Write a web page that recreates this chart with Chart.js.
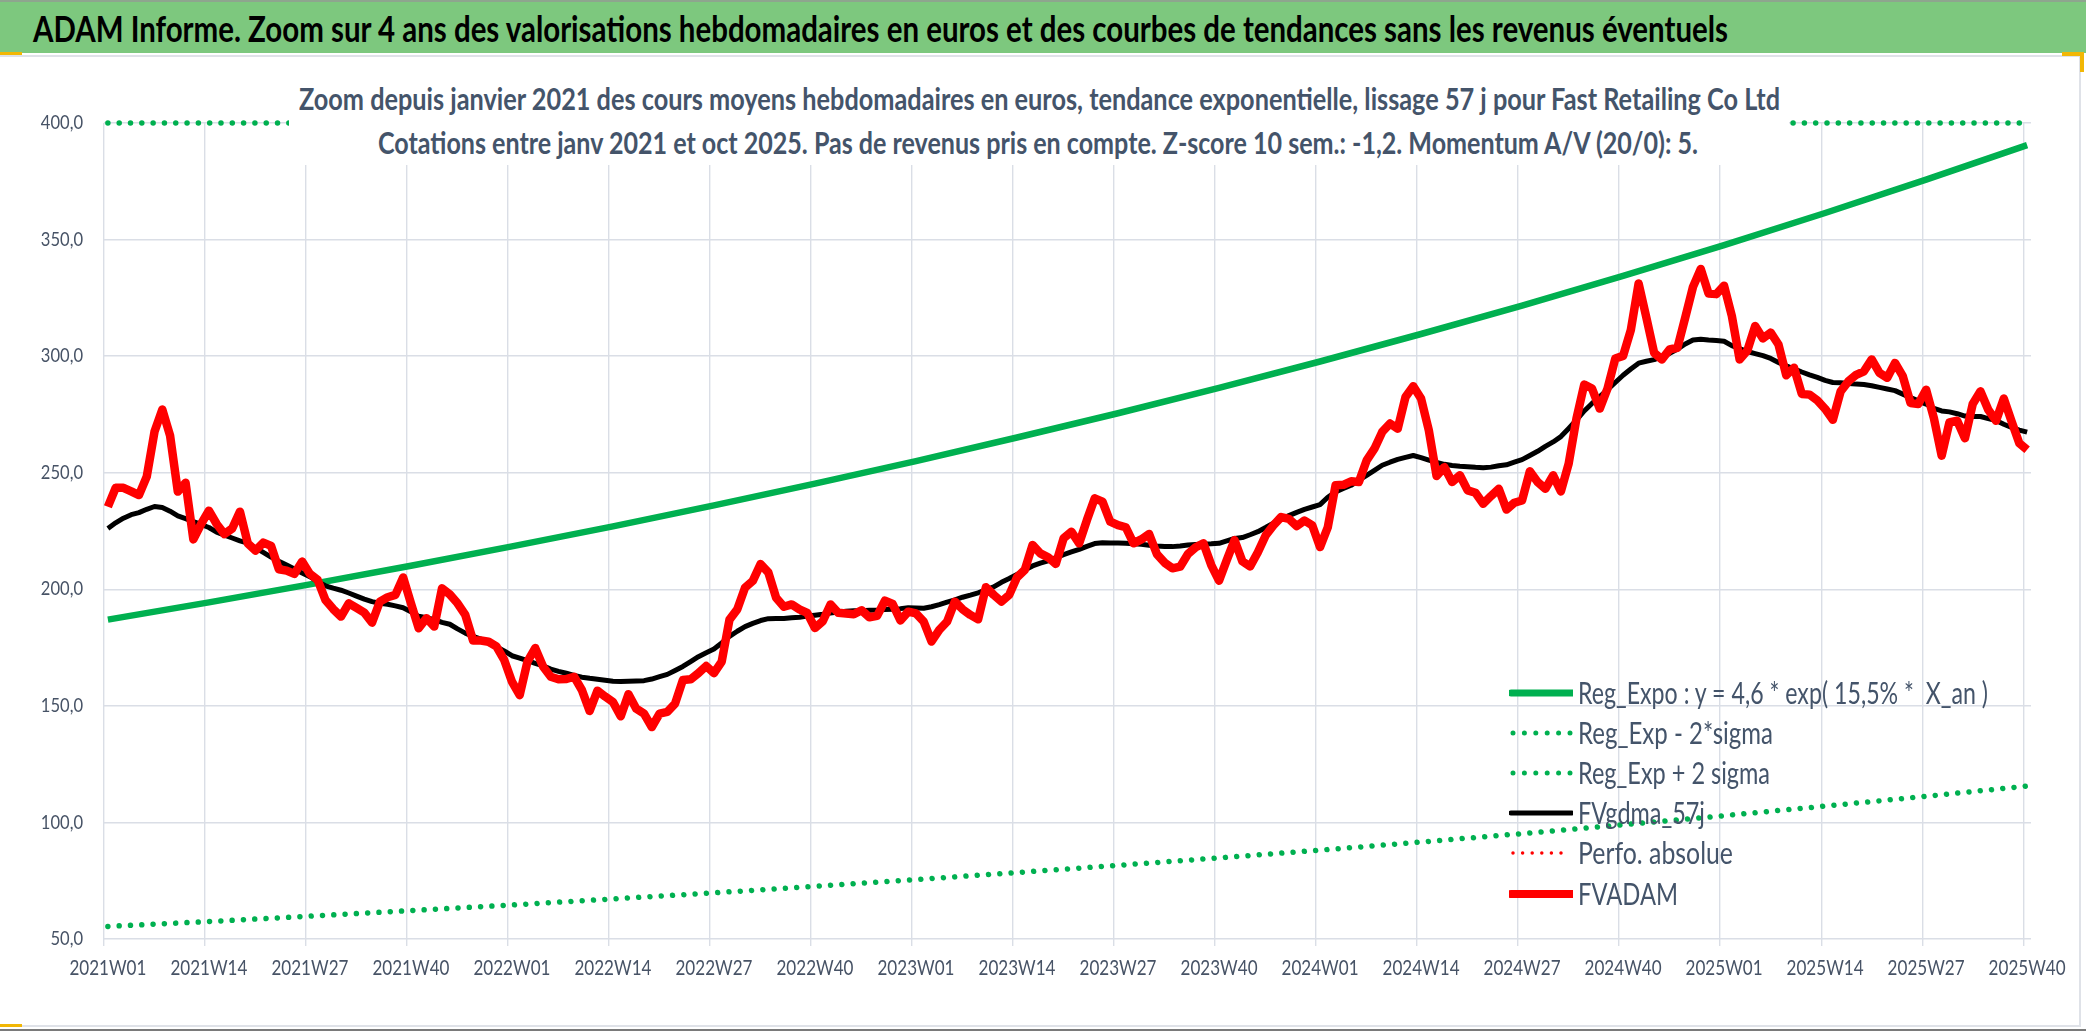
<!DOCTYPE html>
<html><head><meta charset="utf-8">
<script src="https://cdn.jsdelivr.net/npm/chart.js@4.4.1/dist/chart.umd.min.js"></script>
<style>
html,body{margin:0;padding:0;background:#fff;width:2086px;height:1031px;overflow:hidden;font-family:Lato,'Noto Sans',sans-serif;}
#bar{position:absolute;left:0;top:0;width:2086px;height:53px;background:#7dc87e;border-top:2px solid #8ea58e;box-sizing:border-box;}
#title{position:absolute;left:33px;top:8px;font-weight:700;font-size:36px;line-height:36px;color:#000;white-space:nowrap;}
#frame{position:absolute;left:-3px;top:55px;width:2084px;height:972px;border:2px solid #dfe2e8;box-sizing:border-box;}
.mark{position:absolute;background:#f2b705;}
#bottomline{position:absolute;left:0;top:1029px;width:2086px;height:2px;background:#7a7a7a;}
canvas{position:absolute;left:0;top:0;}
#subbox{position:absolute;left:289px;top:70px;width:1500px;height:95px;background:#fff;}
.sub{position:absolute;white-space:nowrap;font-weight:700;font-size:30px;line-height:30px;color:#44546a;}
.leg{position:absolute;left:1509px;}
.legtxt{position:absolute;white-space:pre;font-size:31px;line-height:31px;color:#44546a;}
</style></head>
<body>
<div id="frame"></div>
<div id="bar"><span id="title">ADAM Informe. Zoom sur 4 ans des valorisations hebdomadaires en euros et des courbes de tendances sans les revenus éventuels</span></div>
<div class="mark" style="left:0;top:52px;width:22px;height:3px"></div>
<div class="mark" style="left:2062px;top:52px;width:22px;height:4px"></div>
<div class="mark" style="left:2080px;top:52px;width:4px;height:20px"></div>
<div class="mark" style="left:0;top:1024px;width:22px;height:3px"></div>
<div id="bottomline"></div>
<canvas id="c" width="2086" height="1031" style="width:2086px;height:1031px"></canvas>
<div id="subbox"></div>
<span class="sub" id="sub1" style="top:83px">Zoom depuis janvier 2021 des cours moyens hebdomadaires en euros, tendance exponentielle, lissage 57 j pour Fast Retailing Co Ltd</span>
<span class="sub" id="sub2" style="top:127px">Cotations entre janv 2021 et oct 2025. Pas de revenus pris en compte. Z-score 10 sem.: -1,2. Momentum A/V (20/0): 5.</span>
<div id="legend"></div>
<script>
// ---------- DATA ----------
const years = [2021, 2022, 2023, 2024, 2025];
const weeksPerYear = [52, 52, 52, 52, 40];
const tickLabels = ['2021W01','2021W14','2021W27','2021W40','2022W01','2022W14','2022W27','2022W40',
  '2023W01','2023W14','2023W27','2023W40','2024W01','2024W14','2024W27','2024W40',
  '2025W01','2025W14','2025W27','2025W40'];
const yTicks = [50, 100, 150, 200, 250, 300, 350, 400];

// Reg_Expo values read at each labelled week
const regExpo = [187.0,194.4,202.1,210.1,218.4,227.0,236.0,245.3,255.0,265.1,275.5,286.4,297.7,309.5,321.7,334.4,347.6,361.4,375.7,390.5];
// Reg_Exp - 2*sigma at each labelled week
const regMinus = [55.4,57.5,59.8,62.2,64.6,67.2,69.8,72.6,75.5,78.5,81.6,84.8,88.1,91.6,95.2,99.0,102.9,107.0,111.2,115.6];
// Reg_Exp + 2 sigma at each labelled week (above the 400 axis maximum)
const regPlus = [631.7,656.7,682.6,709.6,737.6,766.8,797.1,828.6,861.3,895.4,930.7,967.5,1005.8,1045.5,1086.8,1129.7,1174.4,1220.8,1269.0,1319.2];

// FVADAM weekly values
const fvadam = [
 235.4,243.5,243.5,242,240.4,248.3,267.6,277.1,266,241.9,245.7,221.4,228,
 233.7,228,223.7,226.1,233.3,219.7,216.6,220,218.6,208.6,208,206.6,211.9,
 206.6,204,195.4,191.5,188.3,194,192,190,185.7,194.7,196.6,197.6,205.1,
 194,183.3,187.6,184,200.4,197.8,194,189,178,178,177.5,175.5,169.7,
 160.4,154.6,169,174.8,166.9,162.5,161.4,161.5,162.5,156.8,147.8,156.5,154,
 151.7,145.5,155,148.8,146.7,140.9,146.7,147.4,151,161.1,161.4,164,167.1,
 164,169,187,191.4,200.7,203.6,210.8,207.2,196.4,192.5,193.5,191.4,189.9,
 183.4,186.3,193.5,189.9,189.6,189.3,191,188,188.6,195.1,193.7,186.6,190.4,
 189.7,186.1,177.6,182.6,186.1,194.7,191.4,189,187.1,200.9,197.6,194.7,197.6,
 205.1,208.3,219,215.4,213.7,210.9,221.9,224.7,219.7,229.7,239,237.6,229,
 227.5,226.6,219.7,221.4,223.7,215.1,211.4,209,209.7,215.1,218,219.7,210.4,
 203.7,212.6,221.1,212,209.8,215.9,223.1,227.4,231,230.2,227.1,229.5,227.4,
 218.1,226.6,244.6,244.8,246.3,246,255.3,260.3,267.5,271.1,268.9,282.5,287.1,
 281.8,268.2,248.6,252.4,246,248.9,242.4,241.4,236.7,240,243.1,234.2,237.1,
 238.1,250.6,246,243.1,248.9,242,253.9,273.2,287.8,286.1,277.5,286.1,299,
 300.1,311.2,331.2,316.5,301.4,298.6,302.9,303.6,316.5,329.7,337.4,326.9,326.6,
 330.2,317.2,298.6,302.4,312.9,307.6,310.1,305,291.8,295,283.8,283.5,281,
 277.4,272.7,284.9,289.2,292,293.5,298.6,292.8,290.7,297.1,291.4,279.9,279.5,
 285.6,273.4,257.3,271.6,272.3,264.8,279.5,284.9,277,272.3,281.8,272,262.6,
 259.8];

// FVgdma_57j weekly values
const fvgdma = [
 226.1,228.5,230.5,232,232.9,234.3,235.5,235.1,233.5,231.5,230.3,229,227.8,
 226.5,224.5,223.2,222,220.8,219.8,217.8,215.8,213.8,212,210.4,208.7,207,
 205.4,203.3,201.5,200.5,199.6,198.4,197.1,195.8,194.7,194,193.6,192.9,192.1,
 190.4,188.4,187.8,187,185.8,185,183,181.2,179.8,178.6,176.8,175.4,173.6,
 171.5,170.5,169.4,168.2,167.2,165.8,164.8,164,163.1,162.3,161.8,161.4,161,
 160.6,160.5,160.6,160.7,160.8,161.5,162.5,163.5,165.2,166.9,169,171.1,172.8,
 174.4,177,179.8,182,184,185.4,186.6,187.4,187.5,187.5,187.8,188,188.5,
 188.9,189.3,189.8,190.2,190.6,190.8,190.8,191,191.1,191.3,191.4,191.7,192.1,
 192,191.9,192.5,193.4,194.5,195.5,196.6,197.5,198.5,199.8,201,203,204.6,
 206.4,208.2,210,211.2,212.2,213.6,214.9,216,217.1,218.4,219.6,220,219.9,
 219.8,219.7,219.5,219.3,218.9,218.6,218.4,218.3,218.6,219,219.2,219.4,219.5,
 219.7,220.8,221.8,222.2,223.4,224.7,226.5,228.4,230,231.6,233,234.3,235.3,
 236.3,239.5,241.8,243.2,244.6,246.8,248.9,251,253.2,254.5,255.7,256.6,257.4,
 256.5,255.4,254.4,253.6,253.1,252.8,252.6,252.3,252.1,252.4,253,253.4,254.5,
 255.6,257.4,259.2,261.3,263.2,265.5,269,272.6,276.5,279.7,282.6,285.6,288.7,
 291.8,294.5,297,297.8,298.5,299.8,301.2,303,305.2,306.9,307.2,306.9,306.7,
 306.4,304.5,303.2,302,301.1,300.2,299,297.3,295.8,294.6,293.2,292,290.9,
 289.6,288.7,288.6,288.3,288,287.8,287.3,286.6,285.9,285.2,283.7,282.2,280.8,
 279.4,277.6,276.5,276.1,275.3,274.3,274.1,274.1,273.2,272.4,270.8,269.4,268.3,
 267.4];

const legendNames = ['Reg_Expo : y = 4,6 * exp( 15,5% *  X_an )','Reg_Exp - 2*sigma','Reg_Exp + 2 sigma','FVgdma_57j','Perfo. absolue','FVADAM'];
const perfoAbsolue = [];

// ---------- BUILD ----------
const categories = [];
years.forEach((y, k) => { for (let w = 1; w <= weeksPerYear[k]; w++) categories.push(y + 'W' + String(w).padStart(2, '0')); });
const toPts = arr => tickLabels.map((l, k) => ({x: l, y: arr[k]}));

const GREEN = '#00b050', RED = '#ff0000', GRID = '#dadee6', TXT = '#475366';
let SX_X = 0.8, SX_Y = 0.85;

const textScale = {
  id: 'textScale',
  beforeDraw(chart) {
    const ctx = chart.ctx;
    if (ctx.__patched) return;
    ctx.save();
    ctx.font = '21px Lato'; SX_X = 77 / ctx.measureText('2021W01').width;
    ctx.font = '19px Lato'; SX_Y = 32.6 / ctx.measureText('50,0').width;
    ctx.restore();
    const orig = ctx.fillText;
    ctx.fillText = function (t, x, y, mw) {
      const s = /W/.test(String(t)) ? SX_X : SX_Y;
      this.save(); this.translate(x, y); this.scale(s, 1);
      if (mw === undefined) orig.call(this, t, 0, 0); else orig.call(this, t, 0, 0, mw / s);
      this.restore();
    };
    ctx.__patched = true;
  }
};
const clampTop = {
  id: 'clampTop',
  afterDatasetsUpdate(chart) {
    chart.data.datasets.forEach((ds, i) => {
      if (!ds.clampTop) return;
      const top = chart.chartArea.top;
      chart.getDatasetMeta(i).data.forEach(p => { if (p.y < top) p.y = top; });
    });
  }
};

const dotted = (w, gap) => ({borderWidth: w, borderDash: [0.01, gap], borderCapStyle: 'round'});
const isTick = i => i !== undefined && tickLabels.includes(categories[i]);

new Chart(document.getElementById('c'), {
  type: 'line',
  data: {
    labels: categories,
    datasets: [
      {label: legendNames[0], data: toPts(regExpo), borderColor: GREEN, borderWidth: 6.5, order: 6},
      Object.assign({label: legendNames[1], data: toPts(regMinus), borderColor: GREEN, order: 5}, dotted(5.5, 11.3)),
      Object.assign({label: legendNames[2], data: toPts(regPlus), borderColor: GREEN, order: 4, clampTop: true, clip: 10}, dotted(5.5, 11.3)),
      {label: legendNames[3], data: fvgdma, borderColor: '#000000', borderWidth: 5, order: 3},
      Object.assign({label: legendNames[4], data: perfoAbsolue, borderColor: RED, order: 2}, dotted(3.5, 9.5)),
      {label: legendNames[5], data: fvadam, borderColor: RED, borderWidth: 8.5, order: 1}
    ].map(d => Object.assign({pointRadius: 0, pointHoverRadius: 0, tension: 0, fill: false, borderJoinStyle: 'round'}, d))
  },
  options: {
    responsive: false, animation: false, devicePixelRatio: 1,
    layout: {padding: {top: 123, right: 55, bottom: 30, left: 0}},
    plugins: {legend: {display: false}, tooltip: {enabled: false}, title: {display: false}},
    scales: {
      x: {
        type: 'category', offset: true,
        afterFit: s => { s.height = 62; },
        border: {display: false},
        grid: {offset: true, tickLength: 7, lineWidth: 1.4,
          color: c => isTick(c.index) ? GRID : 'rgba(0,0,0,0)'},
        ticks: {autoSkip: false, maxRotation: 0, minRotation: 0, padding: 10, color: TXT,
          font: {family: 'Lato', size: 21},
          callback: (v, i) => isTick(i) ? categories[i] : ''}
      },
      y: {
        min: 50, max: 400,
        afterFit: s => { s.width = 104; },
        afterBuildTicks: s => { s.ticks = yTicks.map(v => ({value: v})); },
        border: {display: false},
        grid: {color: GRID, lineWidth: 1.4, drawTicks: false},
        ticks: {padding: 21, color: TXT, font: {family: 'Lato', size: 19},
          callback: v => v.toFixed(1).replace('.', ',')}
      }
    }
  },
  plugins: [textScale, clampTop]
});

// ---------- HTML texts ----------
function fit(el, x0, x1) {
  const w = el.getBoundingClientRect().width;
  el.style.left = x0 + 'px';
  el.style.transformOrigin = '0 0';
  el.style.transform = 'scaleX(' + ((x1 - x0) / w) + ')';
}
fit(document.getElementById('title'), 33, 1728);
fit(document.getElementById('sub1'), 299, 1780);
fit(document.getElementById('sub2'), 378, 1698);

const legendStyles = [
  {color: GREEN, w: 7, dash: null},
  {color: GREEN, w: 5, dash: 11.4},
  {color: GREEN, w: 5, dash: 11.4},
  {color: '#000000', w: 5, dash: null},
  {color: RED, w: 3.5, dash: 9.6},
  {color: RED, w: 8, dash: null}
];
const rowY = [693, 733, 773, 813, 853, 894];
const rowWidth = [410, 195, 192, 127, 155, 100];
const leg = document.getElementById('legend');
legendNames.forEach((name, i) => {
  const st = legendStyles[i];
  const svg = document.createElementNS('http://www.w3.org/2000/svg', 'svg');
  svg.setAttribute('width', '64'); svg.setAttribute('height', '14');
  svg.setAttribute('class', 'leg');
  svg.style.top = (rowY[i] - 7) + 'px';
  const ln = document.createElementNS('http://www.w3.org/2000/svg', 'line');
  ln.setAttribute('x1', st.dash ? '4' : '2'); ln.setAttribute('x2', st.dash ? '61' : '63');
  ln.setAttribute('y1', '7'); ln.setAttribute('y2', '7');
  ln.setAttribute('stroke', st.color); ln.setAttribute('stroke-width', st.w);
  ln.setAttribute('stroke-linecap', 'round');
  if (st.dash) ln.setAttribute('stroke-dasharray', '0 ' + st.dash);
  svg.appendChild(ln);
  leg.appendChild(svg);
  const t = document.createElement('span');
  t.className = 'legtxt';
  t.textContent = name;
  t.style.top = (rowY[i] - 16.5) + 'px';
  leg.appendChild(t);
  fit(t, 1578, 1578 + rowWidth[i]);
});
</script>
</body></html>
